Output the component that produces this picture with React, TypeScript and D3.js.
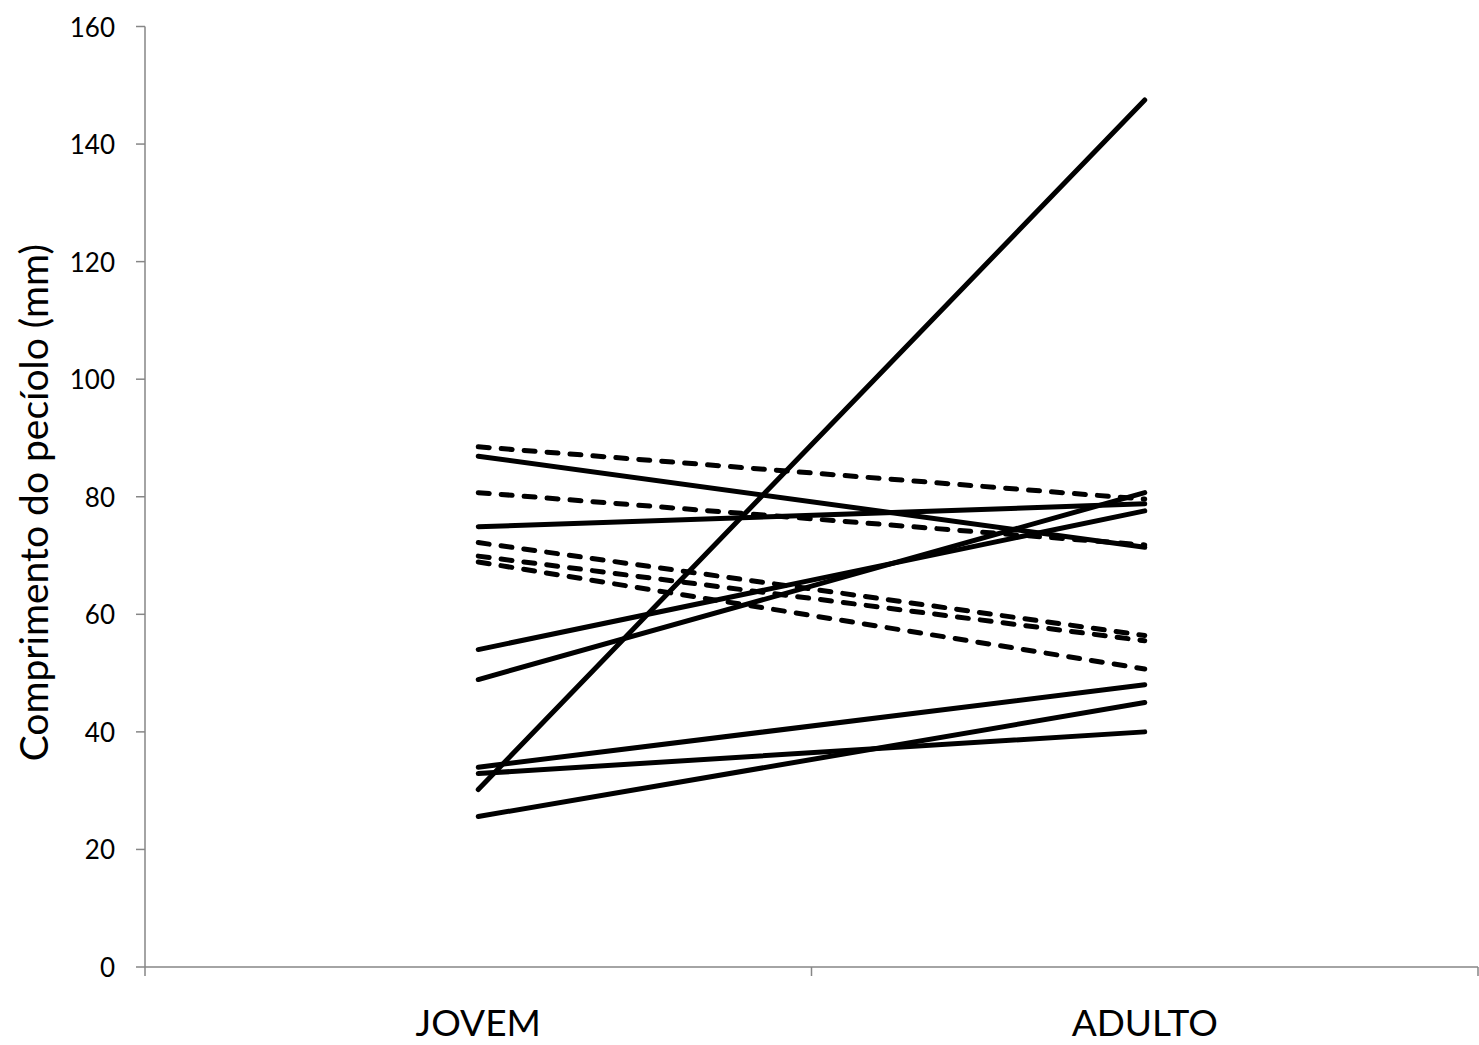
import React from "react";
import * as d3 from "d3";

const categories = ["JOVEM", "ADULTO"];
const jovemValues = [88.5, 86.9, 80.7, 74.9, 72.2, 69.9, 68.9, 54.0, 48.9, 30.2, 34.0, 32.9, 25.6];
const adultoValues = [79.6, 71.4, 71.8, 78.8, 56.4, 55.5, 50.7, 77.6, 80.7, 147.5, 48.0, 40.0, 45.0];
const dashedFlags = [true, false, true, false, true, true, true, false, false, false, false, false, false];
const yTicks = [0, 20, 40, 60, 80, 100, 120, 140, 160];

const W = 1479;
const H = 1045;
const left = 145;
const right = 1478;
const top = 26.5;
const bottom = 967;
const font = "Lato, 'Open Sans', sans-serif";

export default function App() {
  const x = d3.scaleBand<string>().domain(categories).range([left, right]);
  const y = d3.scaleLinear().domain([0, 160]).range([bottom, top]);
  const line = d3
    .line<[string, number]>()
    .x((d) => (x(d[0]) as number) + x.bandwidth() / 2)
    .y((d) => y(d[1]));
  const series = jovemValues.map((v, i) => ({
    pts: [
      [categories[0], v],
      [categories[1], adultoValues[i]],
    ] as [string, number][],
    dashed: dashedFlags[i],
  }));
  const axisColor = "#868686";
  const xTickPos = [left, left + x.bandwidth(), right];
  return (
    <svg
      width={W}
      height={H}
      style={{ position: "absolute", left: 0, top: 0, background: "#fff" }}
    >
      <rect x={0} y={0} width={W} height={H} fill="#fff" />
      <line x1={left} x2={left} y1={top} y2={bottom} stroke={axisColor} strokeWidth={1.5} />
      {yTicks.map((t) => (
        <g key={t}>
          <line x1={left - 9} x2={left} y1={y(t)} y2={y(t)} stroke={axisColor} strokeWidth={1.5} />
          <text
            x={left - 30}
            y={y(t)}
            textAnchor="end"
            dominantBaseline="central"
            fontFamily={font}
            fontSize={26}
            fill="#000"
          >
            {t}
          </text>
        </g>
      ))}
      <line x1={left} x2={right} y1={bottom} y2={bottom} stroke={axisColor} strokeWidth={1.5} />
      {xTickPos.map((p, i) => (
        <line key={i} x1={p} x2={p} y1={bottom} y2={bottom + 9} stroke={axisColor} strokeWidth={1.5} />
      ))}
      {categories.map((c) => (
        <text
          key={c}
          x={(x(c) as number) + x.bandwidth() / 2}
          y={1036}
          textAnchor="middle"
          fontFamily={font}
          fontSize={37}
          fill="#000"
        >
          {c}
        </text>
      ))}
      <text
        transform={`translate(48, ${(top + bottom) / 2 + 6}) rotate(-90)`}
        textAnchor="middle"
        fontFamily={font}
        fontSize={39}
        fill="#000"
      >
        Comprimento do pecíolo (mm)
      </text>
      {series.map((s, i) => (
        <path
          key={i}
          d={line(s.pts) || ""}
          fill="none"
          stroke="#000"
          strokeWidth={5}
          strokeLinecap="round"
          strokeDasharray={s.dashed ? "11,12" : undefined}
        />
      ))}
    </svg>
  );
}
